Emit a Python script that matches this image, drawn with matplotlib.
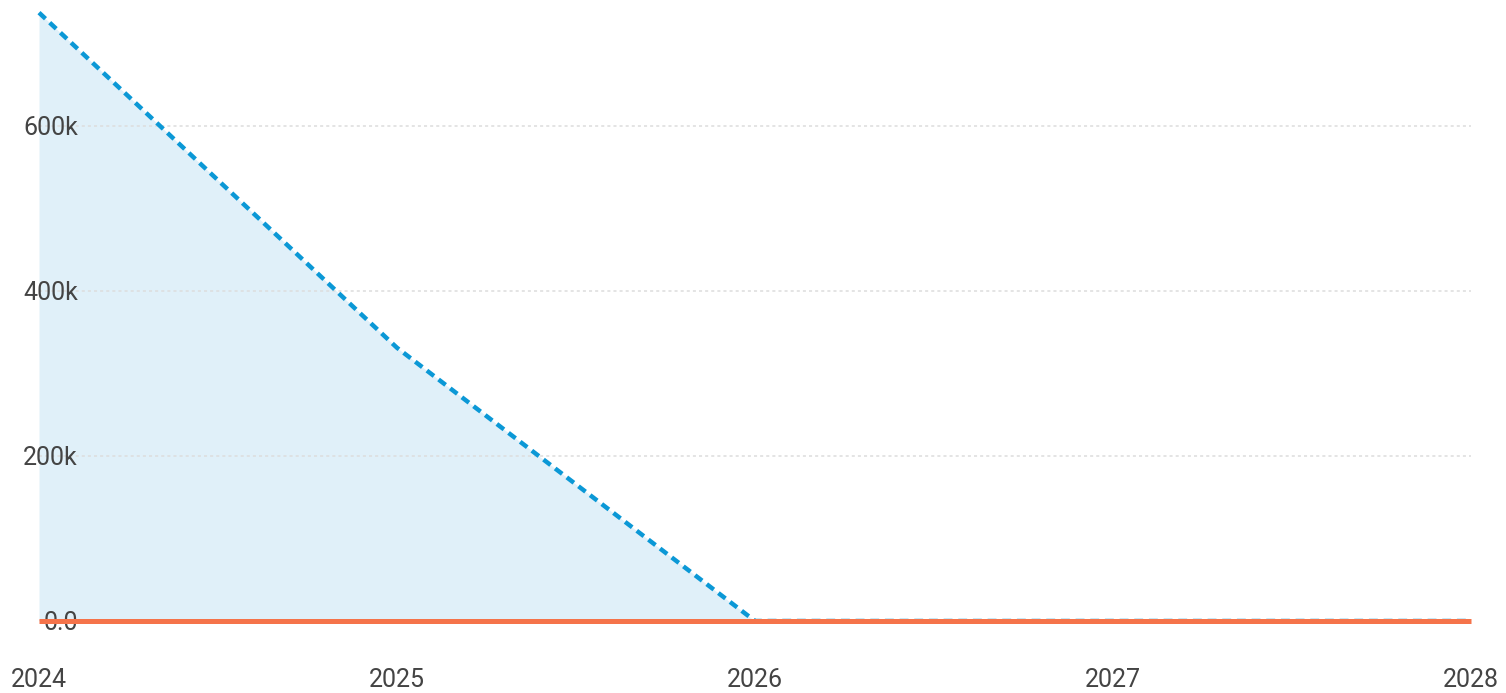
import matplotlib
matplotlib.use("Agg")
import matplotlib.pyplot as plt
from matplotlib.ticker import FuncFormatter

# data
years = [2024, 2025, 2026, 2027, 2028]
blue_values = [737000, 331000, 0, 0, 0]
orange_values = [0, 0, 0, 0, 0]
y_ticks = [0, 200000, 400000, 600000]

plt.rcParams["font.family"] = ["Roboto", "DejaVu Sans"]

fig = plt.figure(figsize=(15.06, 6.93), dpi=100)
ax = fig.add_axes([39 / 1506, 72 / 693, 1432 / 1506, 610 / 693])

ax.fill_between(years, blue_values, 0, color="#e0f0f9", linewidth=0, zorder=1)
ax.plot(years, blue_values, color="#0b98d6", linewidth=3.2,
        linestyle=(0, (2, 1.3)), zorder=3, clip_on=False)
ax.plot(years, orange_values, color="#f5734a", linewidth=3.6, zorder=6,
        solid_capstyle="butt", clip_on=False)

ax.set_xlim(2024, 2028)
ax.set_ylim(0, 739000)
ax.set_xticks(years)
ax.set_yticks(y_ticks)


def fmt_y(v, pos):
    if v == 0:
        return "0.0"
    return f"{int(v / 1000)}k"


ax.yaxis.set_major_formatter(FuncFormatter(fmt_y))
ax.grid(axis="y", color="#dddddd", linestyle=(0, (2, 2)), linewidth=1.1, zorder=0)
ax.grid(axis="x", visible=False)

for s in ax.spines.values():
    s.set_visible(False)

ax.tick_params(axis="both", length=0, labelsize=18, labelcolor="#444444")
ax.tick_params(axis="y", pad=-28)
ax.tick_params(axis="x", pad=34)
for lbl in ax.get_yticklabels():
    lbl.set_zorder(5)

fig.savefig("out.png", dpi=100)
